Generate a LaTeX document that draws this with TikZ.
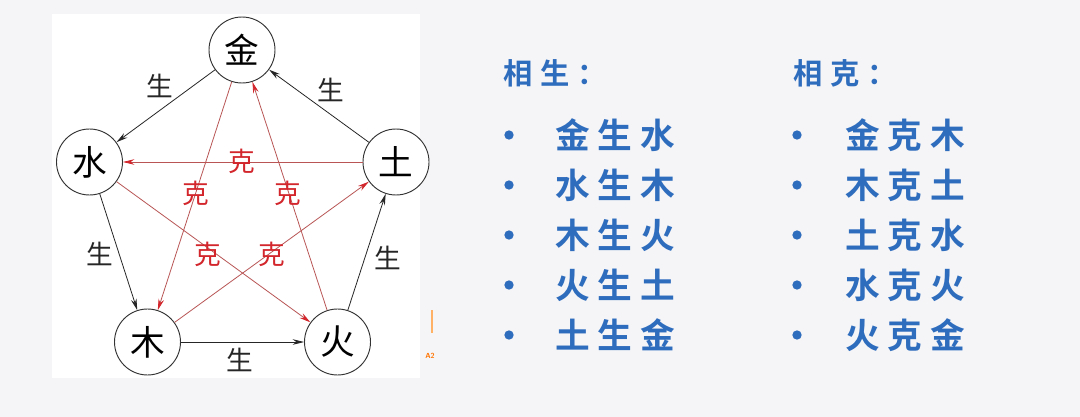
\documentclass[tikz,border=0pt]{standalone}
\usepackage{fontspec}
\newfontfamily\cjk{Noto Sans CJK SC}
\newfontfamily\cjkb{Noto Sans CJK SC Bold}
\usetikzlibrary{arrows.meta}
\definecolor{blu}{RGB}{46,108,189}
\definecolor{kered}{RGB}{210,38,44}
\definecolor{kelin}{RGB}{185,85,85}
\definecolor{bgc}{RGB}{245,245,247}
\newcommand\sptxt[4]{#1\hspace{#4}#2\hspace{#4}#3}
\tikzset{
 elem/.style={circle, draw=black!80, line width=0.7pt, minimum size=49.5pt, inner sep=0pt, fill=white, font=\cjk\fontsize{26}{26}\selectfont},
 sheng/.style={-{Stealth[length=8.5pt,width=4.2pt]}, black!85, line width=0.6pt},
 ke/.style={-{Stealth[length=8.5pt,width=4.2pt,color=kered]}, kelin, line width=0.6pt},
 shenglbl/.style={font=\cjk\fontsize{20}{20}\selectfont, text=black!85, inner sep=0pt},
 kelbl/.style={font=\cjk\fontsize{20}{20}\selectfont, text=kered, inner sep=0pt},
 head/.style={anchor=west, inner sep=0pt, text=blu, font=\cjkb\fontsize{22}{22}\selectfont},
 item/.style={anchor=west, inner sep=0pt, text=blu, font=\cjkb\fontsize{26}{26}\selectfont},
 bullet/.style={circle, fill=blu, inner sep=0pt, minimum size=7pt},
}
\begin{document}
\begin{tikzpicture}[x=0.75pt,y=-0.75pt]
\useasboundingbox (0,0) rectangle (1080,417);
\fill[bgc] (0,0) rectangle (1080,417);
\fill[white] (52,14) rectangle (420,378);
% elements
\node[elem] (jin) at (242,50) {金};
\node[elem] (shui) at (89.5,162) {水};
\node[elem] (tu) at (396,162) {土};
\node[elem] (mu) at (147.5,342) {木};
\node[elem] (huo) at (337.5,342) {火};
% sheng cycle
\draw[sheng] (jin) -- (shui);
\draw[sheng] (shui) -- (mu);
\draw[sheng] (mu) -- (huo);
\draw[sheng] (huo) -- (tu);
\draw[sheng] (tu) -- (jin);
% ke cycle
\draw[ke] (jin) -- (mu);
\draw[ke] (mu) -- (tu);
\draw[ke] (tu) -- (shui);
\draw[ke] (shui) -- (huo);
\draw[ke] (huo) -- (jin);
% labels
\node[shenglbl] (l1) at (160,86) {生};
\node[shenglbl] (l2) at (331,90) {生};
\node[shenglbl] (l3) at (100,254) {生};
\node[shenglbl] (l4) at (388,258) {生};
\node[shenglbl] (l5) at (240,360) {生};
\node[kelbl] (k1) at (242,161) {克};
\node[kelbl] (k2) at (196,193) {克};
\node[kelbl] (k3) at (288,193) {克};
\node[kelbl] (k4) at (208,254) {克};
\node[kelbl] (k5) at (272,254) {克};
% stray mark
\draw[orange!60, line width=0.8pt] (432,310) -- (432,333);
\node[font=\sffamily\bfseries\fontsize{5.5}{6}\selectfont, text=orange!90!red, inner sep=0pt] (a2) at (430,356) {A2};
% right text
\node[head] (h1) at (503,73) {\sptxt{相}{生}{：}{6pt}};
\node[head] (h2) at (793,73) {\sptxt{相}{克}{：}{6pt}};
\foreach \i/\y/\a/\b in {1/135/{\sptxt{金}{生}{水}{6pt}}/{\sptxt{金}{克}{木}{6pt}},
                          2/185/{\sptxt{水}{生}{木}{6pt}}/{\sptxt{木}{克}{土}{6pt}},
                          3/235/{\sptxt{木}{生}{火}{6pt}}/{\sptxt{土}{克}{水}{6pt}},
                          4/285/{\sptxt{火}{生}{土}{6pt}}/{\sptxt{水}{克}{火}{6pt}},
                          5/335/{\sptxt{土}{生}{金}{6pt}}/{\sptxt{火}{克}{金}{6pt}}}{
  \node[bullet] (bl\i) at (509,\y) {};
  \node[item] (tl\i) at (555,\y) {\a};
  \node[bullet] (br\i) at (797,\y) {};
  \node[item] (tr\i) at (845,\y) {\b};
}
\end{tikzpicture}
\end{document}
